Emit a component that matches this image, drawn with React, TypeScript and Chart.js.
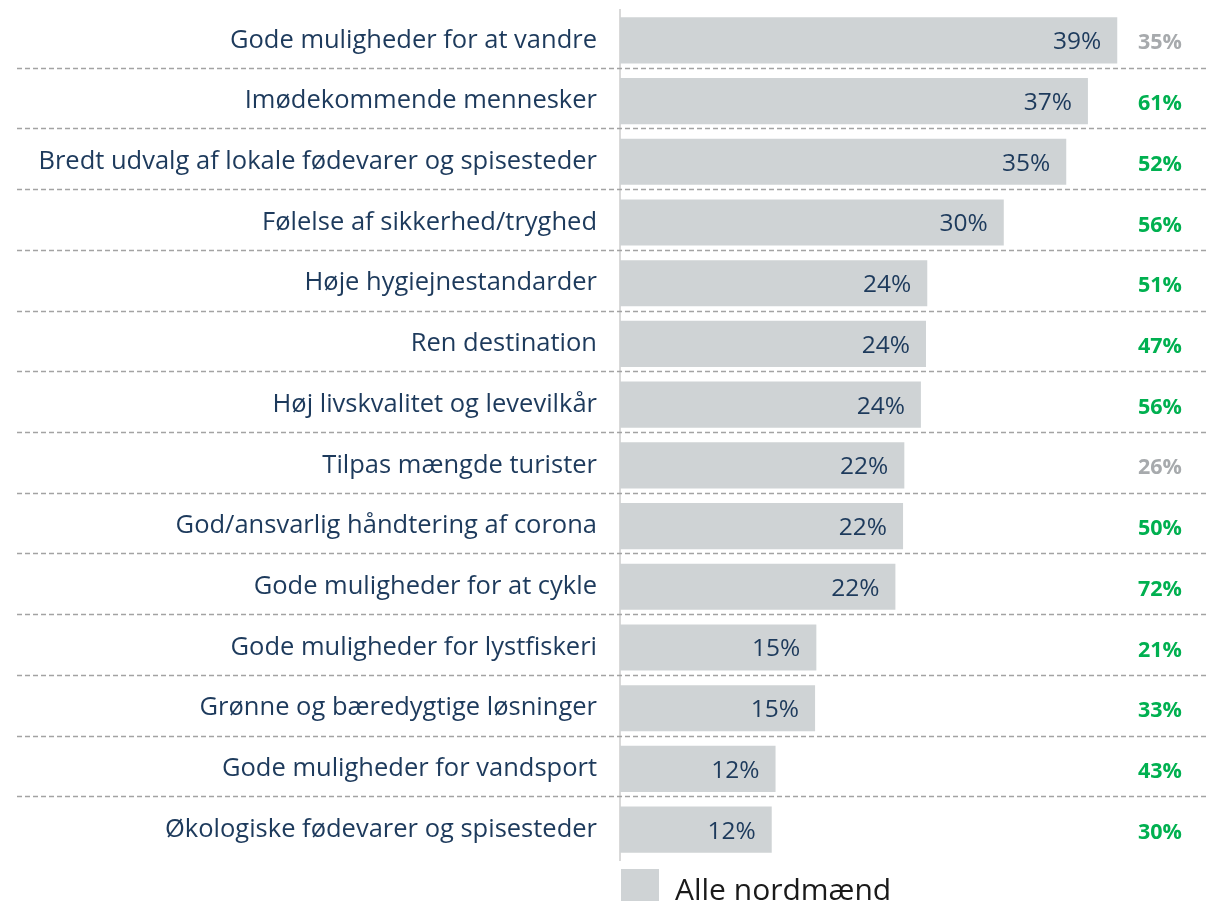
import React, { useEffect, useRef } from "react";
import { Chart, registerables } from "chart.js";

Chart.register(...registerables);

const categories = [
  "Gode muligheder for at vandre",
  "Imødekommende mennesker",
  "Bredt udvalg af lokale fødevarer og spisesteder",
  "Følelse af sikkerhed/tryghed",
  "Høje hygiejnestandarder",
  "Ren destination",
  "Høj livskvalitet og levevilkår",
  "Tilpas mængde turister",
  "God/ansvarlig håndtering af corona",
  "Gode muligheder for at cykle",
  "Gode muligheder for lystfiskeri",
  "Grønne og bæredygtige løsninger",
  "Gode muligheder for vandsport",
  "Økologiske fødevarer og spisesteder",
];

const allNorwegians = [39.0, 36.7, 35.0, 30.1, 24.1, 24.0, 23.6, 22.3, 22.2, 21.6, 15.4, 15.3, 12.2, 11.9];
const comparison = [35, 61, 52, 56, 51, 47, 56, 26, 50, 72, 21, 33, 43, 30];
const comparisonSignificant = [false, true, true, true, true, true, true, false, true, true, true, true, true, true];
const seriesName = "Alle nordmænd";

const FONT = "'Open Sans', 'Noto Sans', sans-serif";
const NAVY = "#1d3a5c";
const BAR = "#cfd3d5";
const GREEN = "#00b050";
const GREY = "#a7aaad";

const overlayPlugin = {
  id: "overlay",
  beforeDatasetsDraw(chart: any) {
    const { ctx } = chart;
    const y = chart.scales.y;
    ctx.save();
    ctx.strokeStyle = "#a3a3a3";
    ctx.lineWidth = 1.5;
    ctx.setLineDash([5, 3]);
    for (let i = 0; i < categories.length - 1; i++) {
      const yy = Math.round((y.getPixelForValue(i) + y.getPixelForValue(i + 1)) / 2) - 2.5;
      ctx.beginPath();
      ctx.moveTo(17, yy);
      ctx.lineTo(chart.width, yy);
      ctx.stroke();
    }
    ctx.restore();
  },
  afterDatasetsDraw(chart: any) {
    const { ctx } = chart;
    const meta = chart.getDatasetMeta(0);
    const y = chart.scales.y;
    ctx.save();
    ctx.textBaseline = "middle";
    meta.data.forEach((bar: any, i: number) => {
      ctx.font = `24.5px ${FONT}`;
      ctx.fillStyle = NAVY;
      ctx.textAlign = "right";
      ctx.fillText(`${Math.round(allNorwegians[i])}%`, bar.x - 16, bar.y + 2);
      ctx.font = `bold 21.5px ${FONT}`;
      ctx.fillStyle = comparisonSignificant[i] ? GREEN : GREY;
      ctx.textAlign = "center";
      ctx.fillText(`${comparison[i]}%`, 1160, y.getPixelForValue(i) + 3);
    });
    // legend
    const left = chart.chartArea.left + 1;
    ctx.fillStyle = BAR;
    ctx.fillRect(left, 869, 38, 40);
    ctx.fillStyle = "#1a1a1a";
    ctx.font = `30px ${FONT}`;
    ctx.textAlign = "left";
    ctx.textBaseline = "alphabetic";
    ctx.fillText(seriesName, 675, 900);
    ctx.restore();
  },
};

export default function App() {
  const ref = useRef<HTMLCanvasElement>(null);
  useEffect(() => {
    document.body.style.margin = "0";
    const chart = new Chart(ref.current!, {
      type: "bar",
      data: {
        labels: categories,
        datasets: [
          {
            label: seriesName,
            data: allNorwegians,
            backgroundColor: BAR,
            barPercentage: 0.76,
            categoryPercentage: 1,
          },
        ],
      },
      options: {
        indexAxis: "y",
        animation: false,
        responsive: false,
        layout: { padding: { top: 10, bottom: 41, right: 79, left: 0 } },
        plugins: { legend: { display: false }, tooltip: { enabled: false } },
        scales: {
          x: { display: false, min: 0, max: 40 },
          y: {
            afterFit: (s: any) => {
              s.width = 620;
              s.paddingTop = 0;
              s.paddingBottom = 0;
            },
            grid: { display: false, drawTicks: false },
            border: { display: true, color: "#d9d9d9", width: 2 },
            ticks: {
              padding: 23,
              color: NAVY,
              font: { family: FONT, size: 25.5 },
            },
          },
        },
      },
      plugins: [overlayPlugin],
    });
    return () => chart.destroy();
  }, []);
  return (
    <div style={{ width: 1209, height: 901, position: "relative", overflow: "hidden" }}>
      <canvas ref={ref} width={1209} height={901} style={{ position: "absolute", left: 0, top: 0 }} />
    </div>
  );
}
